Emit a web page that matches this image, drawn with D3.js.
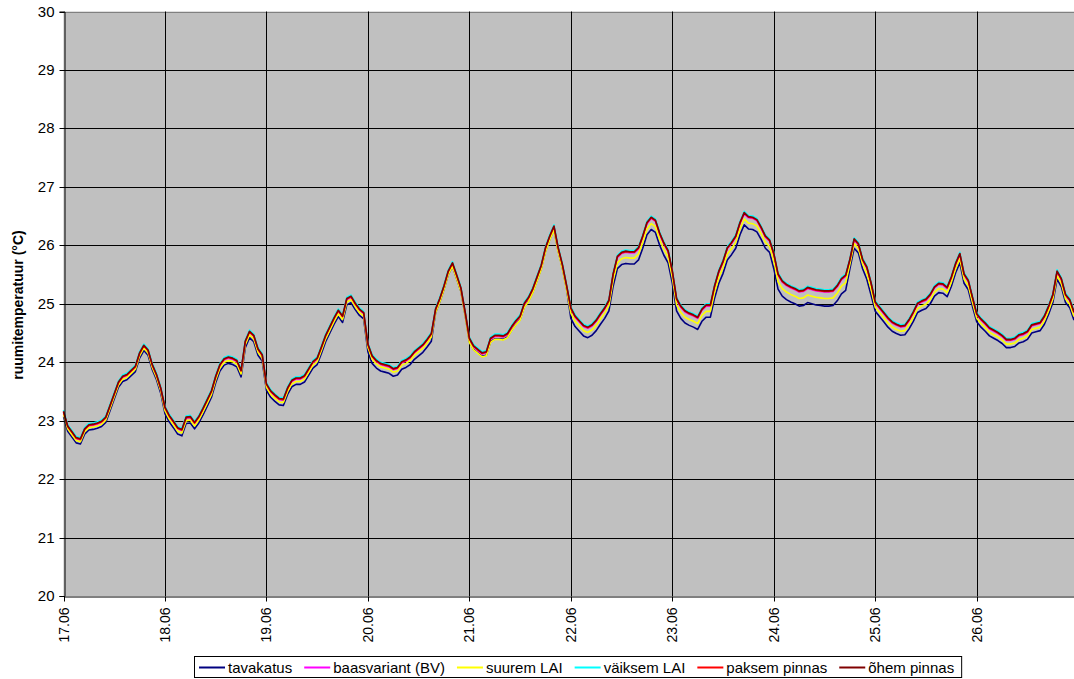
<!DOCTYPE html>
<html>
<head>
<meta charset="utf-8">
<script src="https://cdn.jsdelivr.net/npm/d3@7"></script>
<style>
  body { margin: 0; background: #fff; }
  svg { display: block; font-family: "Liberation Sans", Arial, sans-serif; }
  .tick text { fill: #000; }
</style>
</head>
<body>
<svg id="chart" width="1074" height="679"></svg>
<script>
// tunnipõhised ruumitemperatuurid 17.06 - 26.06 (240 punkti)
var dayLabels = ["17.06","18.06","19.06","20.06","21.06","22.06","23.06","24.06","25.06","26.06"];
var yTicks = [20,21,22,23,24,25,26,27,28,29,30];
var seriesNames = ["tavakatus","baasvariant (BV)","suurem LAI","väiksem LAI","paksem pinnas","õhem pinnas"];
var seriesColors = ["#000080","#FF00FF","#FFFF00","#00FFFF","#FF0000","#800000"];

var tavakatus = [
23.07,22.82,22.72,22.62,22.60,22.77,22.84,22.85,22.87,22.90,22.97,23.17,23.37,23.57,23.67,23.70,23.77,23.84,24.07,24.20,24.12,23.87,23.70,23.47,
23.12,22.98,22.88,22.77,22.74,22.95,22.96,22.86,22.96,23.10,23.25,23.40,23.65,23.85,23.95,23.98,23.96,23.92,23.75,24.25,24.42,24.35,24.12,24.02,
23.52,23.40,23.33,23.27,23.26,23.45,23.58,23.62,23.62,23.66,23.78,23.90,23.96,24.15,24.35,24.50,24.65,24.78,24.68,24.98,25.02,24.90,24.80,24.74,
24.18,23.98,23.90,23.85,23.83,23.81,23.76,23.78,23.88,23.91,23.96,24.05,24.11,24.17,24.26,24.36,24.85,25.03,25.25,25.50,25.64,25.43,25.21,24.80,
24.35,24.22,24.16,24.10,24.12,24.35,24.40,24.40,24.39,24.43,24.55,24.65,24.73,24.95,25.05,25.20,25.40,25.60,25.90,26.10,26.27,25.90,25.61,25.25,
24.75,24.61,24.53,24.45,24.42,24.46,24.54,24.65,24.75,24.88,25.30,25.60,25.67,25.69,25.68,25.68,25.75,25.95,26.18,26.27,26.22,26.00,25.83,25.70,
25.35,24.88,24.75,24.67,24.63,24.60,24.56,24.70,24.77,24.77,25.10,25.35,25.52,25.75,25.84,25.95,26.18,26.35,26.28,26.27,26.23,26.10,25.95,25.88,
25.60,25.25,25.13,25.07,25.03,25.00,24.96,24.97,25.02,25.00,24.98,24.97,24.96,24.96,24.97,25.05,25.17,25.23,25.60,25.95,25.87,25.60,25.42,25.15,
24.87,24.78,24.69,24.60,24.53,24.49,24.46,24.47,24.57,24.70,24.85,24.89,24.92,25.00,25.13,25.19,25.18,25.12,25.30,25.53,25.70,25.35,25.24,24.95,
24.69,24.60,24.53,24.45,24.41,24.37,24.32,24.25,24.25,24.27,24.33,24.35,24.39,24.50,24.52,24.54,24.65,24.82,25.02,25.42,25.29,25.02,24.93,24.72];

var baasvariant = [
23.14,22.89,22.79,22.69,22.67,22.84,22.91,22.92,22.94,22.97,23.04,23.24,23.44,23.64,23.74,23.77,23.84,23.91,24.14,24.27,24.19,23.94,23.77,23.54,
23.21,23.07,22.97,22.86,22.83,23.04,23.05,22.95,23.05,23.19,23.34,23.49,23.74,23.94,24.04,24.07,24.05,24.01,23.84,24.34,24.51,24.44,24.21,24.11,
23.61,23.49,23.42,23.36,23.35,23.54,23.67,23.71,23.71,23.75,23.87,23.99,24.05,24.24,24.44,24.59,24.74,24.87,24.77,25.07,25.11,24.99,24.89,24.83,
24.29,24.09,24.01,23.96,23.94,23.92,23.87,23.89,23.99,24.02,24.07,24.16,24.22,24.28,24.37,24.47,24.89,25.07,25.29,25.54,25.68,25.47,25.25,24.84,
24.39,24.26,24.20,24.14,24.16,24.39,24.44,24.44,24.43,24.47,24.59,24.69,24.77,24.99,25.09,25.24,25.44,25.64,25.94,26.14,26.31,25.94,25.65,25.29,
24.91,24.77,24.69,24.61,24.58,24.62,24.70,24.81,24.91,25.04,25.49,25.79,25.86,25.88,25.87,25.87,25.94,26.14,26.37,26.46,26.41,26.19,26.02,25.89,
25.54,25.07,24.94,24.86,24.82,24.79,24.75,24.89,24.96,24.96,25.29,25.54,25.71,25.94,26.03,26.14,26.37,26.54,26.47,26.46,26.42,26.29,26.14,26.07,
25.84,25.49,25.37,25.31,25.27,25.24,25.20,25.21,25.26,25.24,25.22,25.21,25.20,25.20,25.21,25.29,25.41,25.47,25.74,26.09,26.01,25.74,25.61,25.34,
25.01,24.92,24.83,24.74,24.67,24.63,24.60,24.61,24.71,24.84,24.99,25.03,25.06,25.14,25.27,25.33,25.32,25.26,25.44,25.67,25.84,25.49,25.38,25.09,
24.81,24.72,24.65,24.57,24.53,24.49,24.44,24.37,24.37,24.39,24.45,24.47,24.51,24.62,24.64,24.66,24.77,24.94,25.14,25.54,25.41,25.14,25.05,24.84];

var suuremLAI = [
23.11,22.86,22.76,22.66,22.64,22.81,22.88,22.89,22.91,22.94,23.01,23.21,23.41,23.61,23.71,23.74,23.81,23.88,24.11,24.24,24.16,23.91,23.74,23.51,
23.17,23.03,22.93,22.82,22.79,23.00,23.01,22.91,23.01,23.15,23.30,23.45,23.70,23.90,24.00,24.03,24.01,23.97,23.80,24.30,24.47,24.40,24.17,24.07,
23.57,23.45,23.38,23.32,23.31,23.50,23.63,23.67,23.67,23.71,23.83,23.95,24.01,24.20,24.40,24.55,24.70,24.83,24.73,25.03,25.07,24.95,24.85,24.79,
24.25,24.05,23.97,23.92,23.90,23.88,23.83,23.85,23.95,23.98,24.03,24.12,24.18,24.24,24.33,24.43,24.85,25.03,25.25,25.50,25.64,25.43,25.21,24.80,
24.34,24.21,24.15,24.09,24.11,24.34,24.39,24.39,24.38,24.42,24.54,24.64,24.72,24.94,25.04,25.19,25.39,25.59,25.89,26.09,26.26,25.89,25.60,25.24,
24.84,24.70,24.62,24.54,24.51,24.55,24.63,24.74,24.84,24.97,25.40,25.70,25.77,25.79,25.78,25.78,25.85,26.05,26.28,26.37,26.32,26.10,25.93,25.80,
25.45,24.98,24.85,24.77,24.73,24.70,24.66,24.80,24.87,24.87,25.20,25.45,25.62,25.85,25.94,26.05,26.28,26.45,26.38,26.37,26.33,26.20,26.05,25.98,
25.73,25.38,25.26,25.20,25.16,25.13,25.09,25.10,25.15,25.13,25.11,25.10,25.09,25.09,25.10,25.18,25.30,25.36,25.68,26.03,25.95,25.68,25.52,25.25,
24.94,24.85,24.76,24.67,24.60,24.56,24.53,24.54,24.64,24.77,24.92,24.96,24.99,25.07,25.20,25.26,25.25,25.19,25.37,25.60,25.77,25.42,25.31,25.02,
24.75,24.66,24.59,24.51,24.47,24.43,24.38,24.31,24.31,24.33,24.39,24.41,24.45,24.56,24.58,24.60,24.71,24.88,25.08,25.48,25.35,25.08,24.99,24.78];

var vaiksemLAI = [
23.18,22.93,22.83,22.73,22.71,22.88,22.95,22.96,22.98,23.01,23.08,23.28,23.48,23.68,23.78,23.81,23.88,23.95,24.18,24.31,24.23,23.98,23.81,23.58,
23.25,23.11,23.01,22.90,22.87,23.08,23.09,22.99,23.09,23.23,23.38,23.53,23.78,23.98,24.08,24.11,24.09,24.05,23.88,24.38,24.55,24.48,24.25,24.15,
23.65,23.53,23.46,23.40,23.39,23.58,23.71,23.75,23.75,23.79,23.91,24.03,24.09,24.28,24.48,24.63,24.78,24.91,24.81,25.11,25.15,25.03,24.93,24.87,
24.33,24.13,24.05,24.00,23.98,23.96,23.91,23.93,24.03,24.06,24.11,24.20,24.26,24.32,24.41,24.51,24.93,25.11,25.33,25.58,25.72,25.51,25.29,24.88,
24.43,24.30,24.24,24.18,24.20,24.43,24.48,24.48,24.47,24.51,24.63,24.73,24.81,25.03,25.13,25.28,25.48,25.68,25.98,26.18,26.35,25.98,25.69,25.33,
24.95,24.81,24.73,24.65,24.62,24.66,24.74,24.85,24.95,25.08,25.53,25.83,25.90,25.92,25.91,25.91,25.98,26.18,26.41,26.50,26.45,26.23,26.06,25.93,
25.58,25.11,24.98,24.90,24.86,24.83,24.79,24.93,25.00,25.00,25.33,25.58,25.75,25.98,26.07,26.18,26.41,26.58,26.51,26.50,26.46,26.33,26.18,26.11,
25.88,25.53,25.41,25.35,25.31,25.28,25.24,25.25,25.30,25.28,25.26,25.25,25.24,25.24,25.25,25.33,25.45,25.51,25.78,26.13,26.05,25.78,25.65,25.38,
25.05,24.96,24.87,24.78,24.71,24.67,24.64,24.65,24.75,24.88,25.03,25.07,25.10,25.18,25.31,25.37,25.36,25.30,25.48,25.71,25.88,25.53,25.42,25.13,
24.85,24.76,24.69,24.61,24.57,24.53,24.48,24.41,24.41,24.43,24.49,24.51,24.55,24.66,24.68,24.70,24.81,24.98,25.18,25.58,25.45,25.18,25.09,24.88];

var paksemPinnas = [
23.15,22.90,22.80,22.70,22.68,22.85,22.92,22.93,22.95,22.98,23.05,23.25,23.45,23.65,23.75,23.78,23.85,23.92,24.15,24.28,24.20,23.95,23.78,23.55,
23.22,23.08,22.98,22.87,22.84,23.05,23.06,22.96,23.06,23.20,23.35,23.50,23.75,23.95,24.05,24.08,24.06,24.02,23.85,24.35,24.52,24.45,24.22,24.12,
23.62,23.50,23.43,23.37,23.36,23.55,23.68,23.72,23.72,23.76,23.88,24.00,24.06,24.25,24.45,24.60,24.75,24.88,24.78,25.08,25.12,25.00,24.90,24.84,
24.30,24.10,24.02,23.97,23.95,23.93,23.88,23.90,24.00,24.03,24.08,24.17,24.23,24.29,24.38,24.48,24.90,25.08,25.30,25.55,25.69,25.48,25.26,24.85,
24.40,24.27,24.21,24.15,24.17,24.40,24.45,24.45,24.44,24.48,24.60,24.70,24.78,25.00,25.10,25.25,25.45,25.65,25.95,26.15,26.32,25.95,25.66,25.30,
24.92,24.78,24.70,24.62,24.59,24.63,24.71,24.82,24.92,25.05,25.50,25.80,25.87,25.89,25.88,25.88,25.95,26.15,26.38,26.47,26.42,26.20,26.03,25.90,
25.55,25.08,24.95,24.87,24.83,24.80,24.76,24.90,24.97,24.97,25.30,25.55,25.72,25.95,26.04,26.15,26.38,26.55,26.48,26.47,26.43,26.30,26.15,26.08,
25.85,25.50,25.38,25.32,25.28,25.25,25.21,25.22,25.27,25.25,25.23,25.22,25.21,25.21,25.22,25.30,25.42,25.48,25.75,26.10,26.02,25.75,25.62,25.35,
25.02,24.93,24.84,24.75,24.68,24.64,24.61,24.62,24.72,24.85,25.00,25.04,25.07,25.15,25.28,25.34,25.33,25.27,25.45,25.68,25.85,25.50,25.39,25.10,
24.82,24.73,24.66,24.58,24.54,24.50,24.45,24.38,24.38,24.40,24.46,24.48,24.52,24.63,24.65,24.67,24.78,24.95,25.15,25.55,25.42,25.15,25.06,24.85];

var ohemPinnas = [
23.16,22.91,22.81,22.71,22.69,22.86,22.93,22.94,22.96,22.99,23.06,23.26,23.46,23.66,23.76,23.79,23.86,23.93,24.16,24.29,24.21,23.96,23.79,23.56,
23.23,23.09,22.99,22.88,22.85,23.06,23.07,22.97,23.07,23.21,23.36,23.51,23.76,23.96,24.06,24.09,24.07,24.03,23.86,24.36,24.53,24.46,24.23,24.13,
23.63,23.51,23.44,23.38,23.37,23.56,23.69,23.73,23.73,23.77,23.89,24.01,24.07,24.26,24.46,24.61,24.76,24.89,24.79,25.09,25.13,25.01,24.91,24.85,
24.31,24.11,24.03,23.98,23.96,23.94,23.89,23.91,24.01,24.04,24.09,24.18,24.24,24.30,24.39,24.49,24.91,25.09,25.31,25.56,25.70,25.49,25.27,24.86,
24.41,24.28,24.22,24.16,24.18,24.41,24.46,24.46,24.45,24.49,24.61,24.71,24.79,25.01,25.11,25.26,25.46,25.66,25.96,26.16,26.33,25.96,25.67,25.31,
24.93,24.79,24.71,24.63,24.60,24.64,24.72,24.83,24.93,25.06,25.51,25.81,25.88,25.90,25.89,25.89,25.96,26.16,26.39,26.48,26.43,26.21,26.04,25.91,
25.56,25.09,24.96,24.88,24.84,24.81,24.77,24.91,24.98,24.98,25.31,25.56,25.73,25.96,26.05,26.16,26.39,26.56,26.49,26.48,26.44,26.31,26.16,26.09,
25.86,25.51,25.39,25.33,25.29,25.26,25.22,25.23,25.28,25.26,25.24,25.23,25.22,25.22,25.23,25.31,25.43,25.49,25.76,26.11,26.03,25.76,25.63,25.36,
25.03,24.94,24.85,24.76,24.69,24.65,24.62,24.63,24.73,24.86,25.01,25.05,25.08,25.16,25.29,25.35,25.34,25.28,25.46,25.69,25.86,25.51,25.40,25.11,
24.83,24.74,24.67,24.59,24.55,24.51,24.46,24.39,24.39,24.41,24.47,24.49,24.53,24.64,24.66,24.68,24.79,24.96,25.16,25.56,25.43,25.16,25.07,24.86];

var allSeries = [tavakatus, baasvariant, suuremLAI, vaiksemLAI, paksemPinnas, ohemPinnas];

var svg = d3.select("#chart");
var plotLeft = 63.5, plotRight = 1074, plotTop = 11.5, plotBottom = 596;

var x = d3.scaleLinear().domain([0, tavakatus.length - 1]).range([plotLeft, plotRight]);
var y = d3.scaleLinear().domain([20, 30]).range([plotBottom, plotTop]);
function px(v) { return Math.round(v) + 0.5; }

// plot area
svg.append("rect")
  .attr("x", plotLeft).attr("y", plotTop)
  .attr("width", plotRight - plotLeft).attr("height", plotBottom - plotTop)
  .attr("fill", "#C0C0C0");
svg.append("line")
  .attr("x1", plotLeft).attr("x2", plotRight)
  .attr("y1", px(plotTop)).attr("y2", px(plotTop))
  .attr("stroke", "#808080");

// grid
svg.append("g").selectAll("line")
  .data(yTicks.slice(1, -1))
  .enter().append("line")
  .attr("x1", plotLeft).attr("x2", plotRight)
  .attr("y1", function(d) { return px(y(d)); })
  .attr("y2", function(d) { return px(y(d)); })
  .attr("stroke", "#000").attr("stroke-width", 1);

svg.append("g").selectAll("line")
  .data(dayLabels.slice(1))
  .enter().append("line")
  .attr("x1", function(d, i) { return px(x((i + 1) * 24)); })
  .attr("x2", function(d, i) { return px(x((i + 1) * 24)); })
  .attr("y1", plotTop).attr("y2", plotBottom)
  .attr("stroke", "#000").attr("stroke-width", 1);

// series
var line = d3.line()
  .x(function(d, i) { return x(i); })
  .y(function(d) { return y(d); });

svg.append("g").selectAll("path")
  .data(allSeries)
  .enter().append("path")
  .attr("d", line)
  .attr("fill", "none")
  .attr("stroke", function(d, i) { return seriesColors[i]; })
  .attr("stroke-width", 1.6)
  .attr("stroke-linejoin", "round");

// y axis
var yAxis = d3.axisLeft(y).tickValues(yTicks).tickSize(5).tickPadding(5);
var gy = svg.append("g")
  .attr("transform", "translate(" + px(plotLeft) + ",0)")
  .call(yAxis);
gy.selectAll(".tick").attr("transform", function(d) { return "translate(0," + px(y(d)) + ")"; });
gy.selectAll("text").attr("font-size", 15).attr("font-family", "Liberation Sans, Arial, sans-serif");
gy.select(".domain").attr("stroke", "#000");

// x axis
var xAxis = d3.axisBottom(x)
  .tickValues(dayLabels.map(function(d, i) { return i * 24; }))
  .tickFormat(function(d, i) { return dayLabels[i]; })
  .tickSize(5).tickSizeOuter(0);
var gx = svg.append("g")
  .attr("transform", "translate(0," + px(plotBottom) + ")")
  .call(xAxis);
gx.selectAll(".tick").attr("transform", function(d) { return "translate(" + px(x(d)) + ",0)"; });
gx.selectAll("text")
  .attr("font-size", 14).attr("font-family", "Liberation Sans, Arial, sans-serif")
  .attr("text-anchor", "end")
  .attr("transform", "rotate(-90)")
  .attr("x", -11).attr("y", 0).attr("dy", "0.35em");
gx.select(".domain").attr("stroke", "#000");

// y title
svg.append("text")
  .attr("transform", "translate(23,305) rotate(-90)")
  .attr("text-anchor", "middle")
  .attr("font-size", 14).attr("font-weight", "bold")
  .text("ruumitemperatuur (°C)");

// legend
var lg = svg.append("g");
var lx = 199;
seriesNames.forEach(function(name, i) {
  lg.append("line")
    .attr("x1", lx).attr("x2", lx + 26)
    .attr("y1", 667.5).attr("y2", 667.5)
    .attr("stroke", seriesColors[i]).attr("stroke-width", 2);
  var t = lg.append("text")
    .attr("x", lx + 29).attr("y", 673)
    .attr("font-size", 15)
    .text(name);
  lx += 29 + t.node().getComputedTextLength() + 12;
});
lg.insert("rect", ":first-child")
  .attr("x", 194.5).attr("y", 656.5)
  .attr("width", lx - 199).attr("height", 21)
  .attr("fill", "#fff").attr("stroke", "#000");
</script>
</body>
</html>
